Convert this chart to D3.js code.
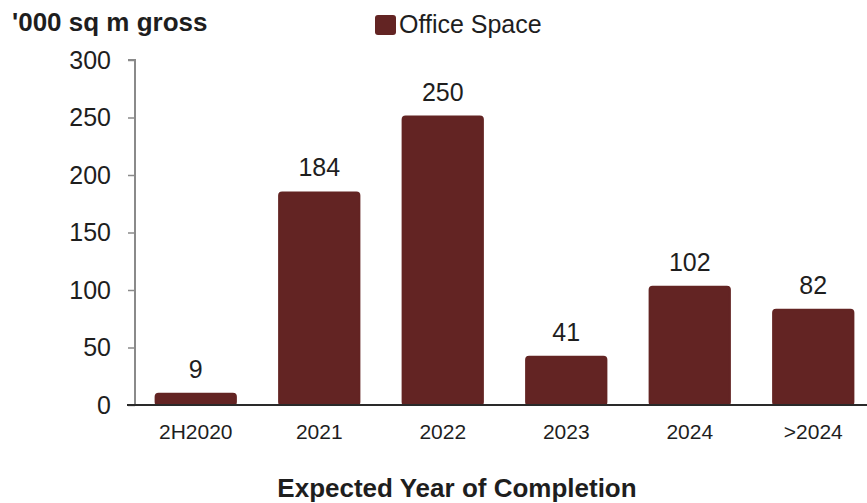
<!DOCTYPE html>
<html>
<head>
<meta charset="utf-8">
<script src="https://cdn.jsdelivr.net/npm/d3@7"></script>
<style>
	body { margin: 0; background: #fff; }
	text { font-family: "Liberation Sans", Arial, sans-serif; fill: #1e1e1e; }
</style>
</head>
<body>
<svg id="chart" width="867" height="503"></svg>
<script>
// Chart data
var categories = ["2H2020", "2021", "2022", "2023", "2024", ">2024"];
var officeSpace = [9, 184, 250, 41, 102, 82];
var yTicks = [0, 50, 100, 150, 200, 250, 300];
var seriesName = "Office Space";
var yTitle = "'000 sq m gross";
var xTitle = "Expected Year of Completion";
var barColor = "#632423";

var svg = d3.select("#chart");

// Scales
var x = d3.scaleBand()
	.domain(categories)
	.range([134, 875])
	.paddingInner(0.35)
	.paddingOuter(0.175);

var y = d3.scaleLinear()
	.domain([0, 300])
	.range([405, 60]);

// Y axis
var yAxis = svg.append("g")
	.attr("transform", "translate(135,0)")
	.call(d3.axisLeft(y).tickValues(yTicks).tickSize(7).tickPadding(17));
yAxis.select(".domain").attr("stroke", "#8a8a8a").attr("stroke-width", 2)
	.attr("d", "M-7," + y(300) + "H0V" + y(0));
yAxis.selectAll(".tick line").attr("stroke", "#8a8a8a").attr("stroke-width", 1.5);
yAxis.selectAll(".tick text")
	.style("font-size", "25px")
	.style("font-family", "'Liberation Sans', Arial, sans-serif")
	.attr("fill", "#1e1e1e");

// Bars
var data = categories.map((c, i) => ({ cat: c, val: officeSpace[i] }));

svg.selectAll(".bar")
	.data(data)
	.enter()
	.append("rect")
	.attr("class", "bar")
	.attr("x", d => x(d.cat))
	.attr("y", d => y(d.val) - 1)
	.attr("width", x.bandwidth())
	.attr("height", d => y(0) - y(d.val) + 1)
	.attr("rx", 3)
	.attr("fill", barColor)
	.attr("stroke", barColor)
	.attr("stroke-width", 2);

// Value labels
svg.selectAll(".val")
	.data(data)
	.enter()
	.append("text")
	.attr("class", "val")
	.attr("x", d => x(d.cat) + x.bandwidth() / 2)
	.attr("y", d => y(d.val) - 17)
	.attr("text-anchor", "middle")
	.style("font-size", "25px")
	.text(d => d.val);

// X axis
var xAxis = svg.append("g")
	.attr("transform", "translate(0," + y(0) + ")")
	.call(d3.axisBottom(x).tickSize(0).tickPadding(19));
xAxis.select(".domain").attr("stroke", "#2a2a2a").attr("stroke-width", 2)
	.attr("d", "M127,0H867");
xAxis.selectAll(".tick text")
	.style("font-size", "21px")
	.style("font-family", "'Liberation Sans', Arial, sans-serif")
	.attr("fill", "#1e1e1e");

// Titles
svg.append("text")
	.attr("x", 12)
	.attr("y", 31)
	.style("font-size", "26px")
	.style("font-weight", "bold")
	.text(yTitle);

svg.append("text")
	.attr("x", 457)
	.attr("y", 497)
	.attr("text-anchor", "middle")
	.style("font-size", "26px")
	.style("font-weight", "bold")
	.text(xTitle);

// Legend
var legend = svg.append("g").attr("transform", "translate(375,15)");
legend.append("rect")
	.attr("width", 21)
	.attr("height", 20)
	.attr("rx", 3)
	.attr("fill", barColor);
legend.append("text")
	.attr("x", 24)
	.attr("y", 18)
	.style("font-size", "25px")
	.text(seriesName);
</script>
</body>
</html>
